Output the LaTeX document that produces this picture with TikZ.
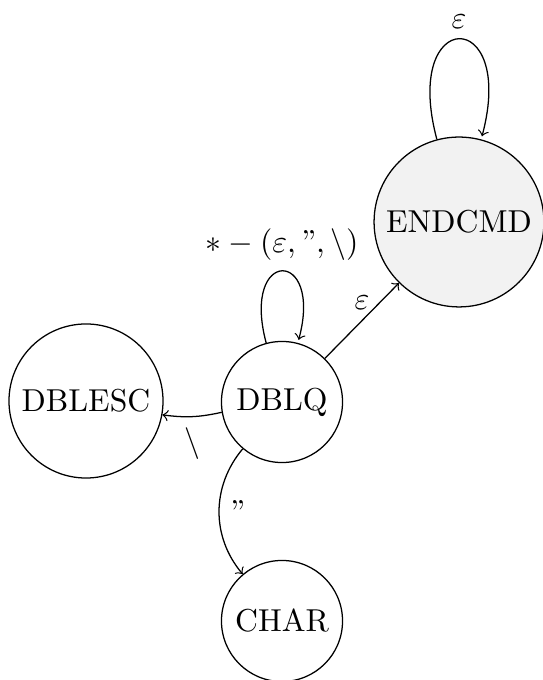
\documentclass[tikz,border=0pt]{standalone}
\usetikzlibrary{arrows}
\begin{document}
\begin{tikzpicture}[x=0.3155pt,y=0.3155pt,
  stnode/.style={circle,draw,inner sep=0pt,font=\fontsize{10}{12}\selectfont},
  smallst/.style={stnode,minimum size=38.2pt},
  every edge/.style={draw,->,>=to},
  lbl/.style={auto}]
\useasboundingbox (0,0) rectangle (542,680);
\node[smallst] (DBLQ) at (282,278) {DBLQ};
\node[stnode,minimum size=48.6pt] (DBLESC) at (86,279) {DBLESC};
\node[stnode,minimum size=53.6pt,fill=gray!10] (ENDCMD) at (459,458) {ENDCMD};
\node[smallst] (CHAR) at (282,59) {CHAR};
\path (DBLQ) edge[loop above] node[lbl] {$\ast-(\varepsilon,\mbox{”},\backslash)$} (DBLQ)
  edge node[above] {$\varepsilon$} (ENDCMD)
  edge[bend left=10] node[lbl] {$\backslash$} (DBLESC)
  edge[bend right=40] node[lbl] {”} (CHAR);
\path (ENDCMD) edge[loop above] node[lbl] {$\varepsilon$} (ENDCMD);
\end{tikzpicture}
\end{document}
